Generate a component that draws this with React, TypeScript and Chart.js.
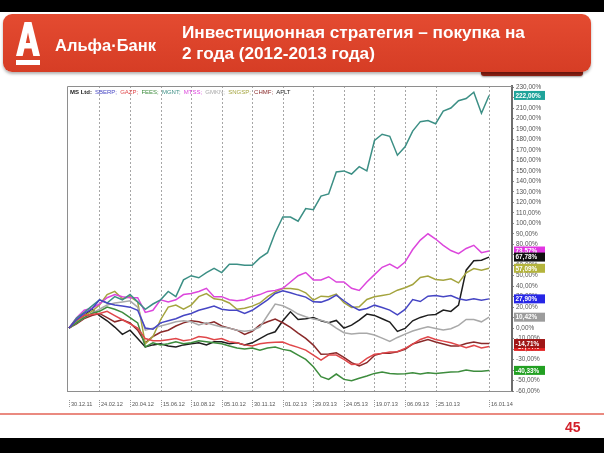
import React, { useEffect, useRef } from 'react';
import { Chart, registerables } from 'chart.js';

Chart.register(...registerables);

// weekly point index (0 = 30.12.11)
const WEEK_INDEX = [0,2,4,6,8,10,12,14,16,18,20,22,24,26,28,30,32,34,36,38,40,42,44,46,48,50,52,54,56,58,60,62,64,66,68,70,72,74,76,78,80,82,84,86,88,90,92,94,96,98,100,102,104,106,108,110];

const X_TICK_INDEX = [0,8,16,24,32,40,48,56,64,72,80,88,96,110];
const X_TICK_LABELS = ['30.12.11','24.02.12','20.04.12','15.06.12','10.08.12','05.10.12','30.11.12','01.02.13','29.03.13','24.05.13','19.07.13','06.09.13','25.10.13','16.01.14'];
const Y_TICKS = [-60,-50,-40,-30,-20,-10,0,10,20,30,40,50,60,70,80,90,100,110,120,130,140,150,160,170,180,190,200,210,220,230];

const TICKERS = ['SBERP','GAZP','FEES','MGNT','MTSS','GMKN','SNGSP','CHMF','AFLT'];

// cumulative change, %
const SBERP = [0,8,14,18,27,24,22,21,20,17,0,-1,5,7,9,12,14,17,19,21,18,17,17,14,17,22,27,33,35.6,33.7,31.5,29.6,25.1,24.8,27.3,31.5,26.1,21,17.2,18.8,21.9,19.7,17.2,12.7,17.8,27.3,25.4,30.5,31.1,29.9,31.1,28,26.7,28,26.7,27.9];
const GAZP = [0,8,12,13,14,16,12,8,4,0,-10,-12,-12,-11,-10,-12,-11,-8,-9,-11,-10,-13,-14,-16,-17,-15,-14,-13.6,-13.3,-16.2,-18.4,-21,-25.7,-30.5,-25.7,-25.7,-29.8,-34.6,-34.3,-28.9,-25,-24.1,-22.8,-22.5,-19.3,-15.2,-10.8,-8.2,-10.8,-12.4,-14,-16.2,-18.7,-16.5,-19,-17.44];
const FEES = [0,5,10,14,16,20,18,15,10,5,-18,-14,-16,-15,-13,-15,-14,-12,-13,-14,-15,-17,-19,-20,-19,-21,-19,-18.1,-20.3,-21.6,-25.7,-29.8,-36.8,-46.3,-48.9,-43.8,-48.9,-50.1,-47.9,-45.7,-43.2,-41.9,-43.2,-43.8,-43.5,-42.5,-43.8,-42.5,-43.2,-42.5,-41.9,-41.6,-40,-41.2,-41.2,-40.33];
const MGNT = [0,9.5,15,21,27,24,30,27,32,25,18,23,27,35,30,46,50,48,53,57,53,61,61,60,60,67,72,91,106,106,102,114,113,126,128,149,150,147,154,150,179,185,183,165,173,188,197,198,195,207,210,217,219,225,205,222];
const MTSS = [0,10,17,19,23,29,32,30,29,29,15,17,27,25,27,32,33,35,38,30,30,27,26,27,30,32,35,36,38,44,50,53,46,46,49,44,44,38,36,44,51,58,61,57,63,75,84,90,85,79,74,71,76,79,72,73.57];
const GMKN = [0,5,10,14,18,22,24,25,26,20,-2,0,2,4,6,7,6,3,5,3,1,0,-2,-3,-2,1,12,22.9,21.3,17.8,13.4,10.8,8.6,7.6,5.1,0,-4.4,-5.7,-5,-5,-6.6,-9.5,-12.7,-8.9,-5.7,-2.8,-0.6,1.3,-0.3,-1.9,-0.6,2.6,8.3,8.3,6,10.42];
const SNGSP = [0,6,12,16,22,32,35,28,30,25,-15,-8,8,20,22,18,22,30,33,28,27,24,18,19,21,24,30,34.6,37.8,37.8,36.9,33.7,26.7,30.5,29.9,32.4,24.2,19.7,20.4,27.3,29.9,31.1,32.4,36.2,38.5,41.6,48.3,49.6,46.4,45.7,47,43.2,52.7,56.9,55.3,57.09];
const CHMF = [0,4,9,12,14,10,6,8,5,-2,-14,-8,-4,-2,2,5,7,6,4,6,2,0,-2,-6,-3,3,6,8.6,5.1,0.7,-4.7,-9.8,-16.2,-25,-24.7,-23.5,-27.9,-33,-36.2,-33,-26,-24.1,-24.1,-22.5,-20.3,-15.2,-13,-10.8,-13.3,-15.2,-17.1,-17.1,-14.6,-13.3,-14.6,-14.71];
const AFLT = [0,6,12,18,12,7,1,-6,-2,-10,-18,-16,-15,-17,-18,-16,-15,-14,-16,-13,-13,-15,-14,-16,-14,-10,-6,-3.5,7,15.6,8.3,8.9,10.2,7,5.1,7.3,0,2.9,7.6,13.4,12.1,8.9,5.7,-3.1,-0.3,7,10.2,12.4,13,17.2,15.9,21.9,55.3,64.2,64.8,67.78];

const SERIES = [SBERP, GAZP, FEES, MGNT, MTSS, GMKN, SNGSP, CHMF, AFLT];
const LINE_COLORS = ['#4646c4', '#e0474a', '#3d8c3d', '#3c8f85', '#dc46dc', '#a9a9a9', '#a4a43e', '#8a2a2a', '#1e1e1e'];
const BOX_COLORS = ['#2626e6', '#e42222', '#22a022', '#1fa39a', '#e236e2', '#9c9c9c', '#b4b43c', '#a01616', '#111111'];
const BOX_ORDER = [3, 4, 8, 6, 0, 5, 1, 7, 2];

const fmtPct = (v: number) => v.toFixed(2).replace('.', ',') + '%';

const overlayPlugin = {
  id: 'overlay',
  beforeDatasetsDraw(chart: any) {
    const { ctx, chartArea: a, scales } = chart;
    const xs = scales.x;
    ctx.save();
    ctx.strokeStyle = '#a6a6a6';
    ctx.lineWidth = 1;
    ctx.setLineDash([2, 2]);
    X_TICK_INDEX.forEach((idx) => {
      if (idx === 0) return;
      const px = Math.round(xs.getPixelForValue(idx)) + 0.5;
      ctx.beginPath();
      ctx.moveTo(px, a.top);
      ctx.lineTo(px, a.bottom);
      ctx.stroke();
    });
    ctx.setLineDash([]);
    ctx.strokeStyle = '#8e8e8e';
    ctx.beginPath();
    ctx.moveTo(a.left + 0.5, a.bottom + 0.5);
    ctx.lineTo(a.left + 0.5, a.top + 0.5);
    ctx.lineTo(a.right, a.top + 0.5);
    ctx.moveTo(a.left, a.bottom + 0.5);
    ctx.lineTo(a.right, a.bottom + 0.5);
    ctx.stroke();
    ctx.restore();
  },
  afterDraw(chart: any) {
    const { ctx, chartArea: a, scales } = chart;
    const xs = scales.x;
    const ys = scales.y;
    ctx.save();
    // x tick labels
    ctx.font = '5.6px "Liberation Sans", Arial, sans-serif';
    ctx.fillStyle = '#555';
    ctx.textBaseline = 'middle';
    ctx.textAlign = 'left';
    X_TICK_INDEX.forEach((idx, k) => {
      const px = Math.round(xs.getPixelForValue(idx)) + 0.5;
      ctx.strokeStyle = '#9a9a9a';
      ctx.setLineDash([1, 1]);
      ctx.beginPath();
      ctx.moveTo(px, a.bottom + 9);
      ctx.lineTo(px, a.bottom + 17);
      ctx.stroke();
      ctx.fillText(X_TICK_LABELS[k], px + 1.5, a.bottom + 13.5);
    });
    ctx.setLineDash([]);
    // legend line
    let lx = a.left + 3;
    const ly = a.top + 6;
    ctx.font = 'bold 6px "Liberation Sans", Arial, sans-serif';
    ctx.fillStyle = '#222';
    ctx.fillText('MS Ltd:', lx, ly);
    lx += ctx.measureText('MS Ltd:').width + 3;
    ctx.font = '6px "Liberation Sans", Arial, sans-serif';
    TICKERS.forEach((t, i) => {
      const txt = i < TICKERS.length - 1 ? t + ';' : t;
      ctx.fillStyle = LINE_COLORS[i];
      ctx.fillText(txt, lx, ly);
      lx += ctx.measureText(txt).width + 3.2;
    });
    // last value boxes
    ctx.font = 'bold 6.4px "Liberation Sans", Arial, sans-serif';
    BOX_ORDER.forEach((i) => {
      const arr = SERIES[i];
      const last = arr[arr.length - 1];
      const py = ys.getPixelForValue(last);
      const bx = a.right + 2;
      ctx.fillStyle = BOX_COLORS[i];
      ctx.fillRect(bx, py - 4.5, 31, 9);
      ctx.fillStyle = '#fff';
      ctx.fillText(fmtPct(last), bx + 1.5, py + 0.5);
    });
    ctx.restore();
  },
};

function ChartCanvas() {
  const ref = useRef<HTMLCanvasElement | null>(null);
  useEffect(() => {
    if (!ref.current) return;
    const chart = new Chart(ref.current, {
      type: 'line',
      data: {
        datasets: SERIES.map((s, i) => ({
          label: TICKERS[i],
          data: s.map((v, k) => ({ x: WEEK_INDEX[k], y: v })),
          borderColor: LINE_COLORS[i],
          backgroundColor: LINE_COLORS[i],
          borderWidth: 1.5,
          pointRadius: 0,
          tension: 0,
          fill: false,
        })),
      },
      options: {
        responsive: false,
        animation: false,
        devicePixelRatio: 1,
        layout: { padding: { left: 67, top: 86, right: 46, bottom: 62 } },
        plugins: { legend: { display: false }, tooltip: { enabled: false } },
        scales: {
          x: { type: 'linear', min: -0.5, max: 116, display: false },
          y: {
            position: 'right',
            min: -60,
            max: 231,
            afterFit: (scale: any) => { scale.width = 46; },
            afterBuildTicks: (scale: any) => { scale.ticks = Y_TICKS.map((v) => ({ value: v })); },
            grid: { display: true, drawOnChartArea: false, drawTicks: true, tickLength: 2, color: '#888' },
            border: { display: true, color: '#6e6e6e', width: 2 },
            ticks: {
              padding: 2,
              color: '#555',
              font: { size: 6.4, family: '"Liberation Sans", Arial, sans-serif' },
              callback: (v: any) => fmtPct(Number(v)),
              autoSkip: false,
            },
          },
        },
      },
      plugins: [overlayPlugin],
    } as any);
    return () => chart.destroy();
  }, []);
  return <canvas ref={ref} width={604} height={453} style={{ position: 'absolute', left: 0, top: 0, width: 604, height: 453 }} />;
}

export default function App() {
  const font = '"Liberation Sans", Arial, sans-serif';
  return (
    <div style={{ position: 'absolute', left: 0, top: 0, width: 604, height: 453, background: '#fff', overflow: 'hidden', fontFamily: font }}>
      <ChartCanvas />
      <div style={{ position: 'absolute', left: 0, top: 0, width: 604, height: 12, background: '#000' }} />
      <div style={{ position: 'absolute', left: 481, top: 67, width: 102, height: 9, background: '#8e2012', borderRadius: 3, boxShadow: '0 1px 2px rgba(0,0,0,0.4)' }} />
      <div style={{ position: 'absolute', left: 3, top: 14, width: 588, height: 58, borderRadius: 9, background: 'linear-gradient(180deg, #e44b31 0%, #d63d25 100%)', boxShadow: '0 2px 3px rgba(0,0,0,0.3)' }} />
      <svg style={{ position: 'absolute', left: 0, top: 0 }} width={60} height={80}>
        <path fillRule="evenodd" fill="#fff" d="M16,56 L24.5,22 L31.5,22 L40,56 L33.3,56 L31.5,48.5 L24.5,48.5 L22.7,56 Z M25.8,43 L28,32.5 L30.2,43 Z" />
        <rect x={16} y={60} width={24} height={5} fill="#fff" />
      </svg>
      <div style={{ position: 'absolute', left: 55, top: 35, color: '#fff', fontWeight: 'bold', fontSize: 16.5, whiteSpace: 'nowrap', lineHeight: '20px' }}>Альфа·Банк</div>
      <div style={{ position: 'absolute', left: 182, top: 22, color: '#fff', fontWeight: 'bold', fontSize: 17.2, lineHeight: '21px', whiteSpace: 'nowrap' }}>
        <div>Инвестиционная стратегия – покупка на</div>
        <div>2 года (2012-2013 года)</div>
      </div>
      <div style={{ position: 'absolute', left: 0, top: 413, width: 604, height: 2, background: '#ea8a80' }} />
      <div style={{ position: 'absolute', left: 565, top: 418, color: '#d3202a', fontWeight: 'bold', fontSize: 14, lineHeight: '18px' }}>45</div>
      <div style={{ position: 'absolute', left: 0, top: 438, width: 604, height: 15, background: '#000' }} />
    </div>
  );
}
